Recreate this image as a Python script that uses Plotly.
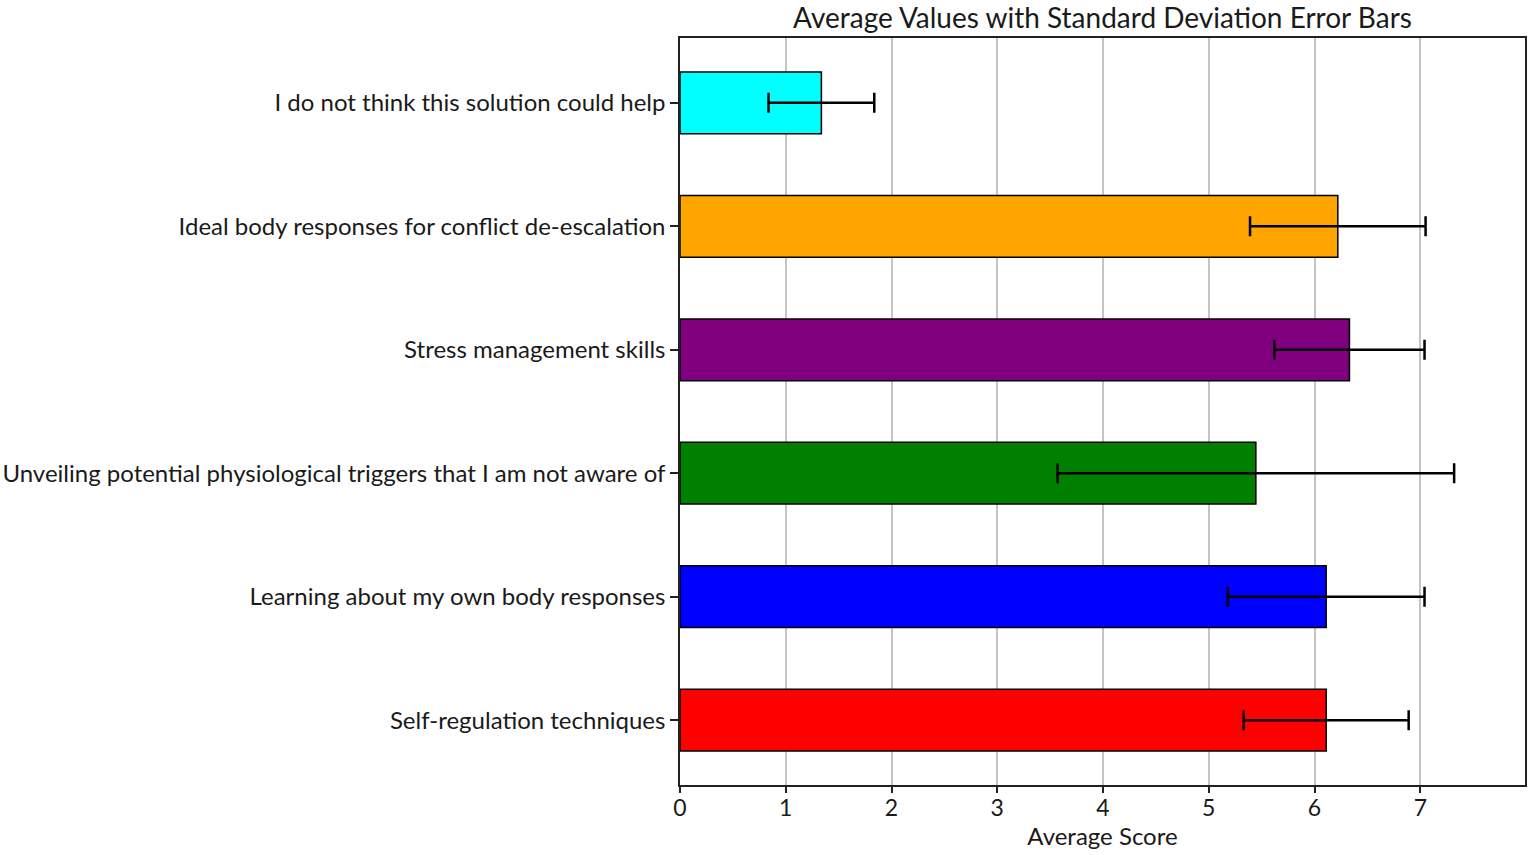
import plotly.graph_objects as go

categories = [
    "Self-regulation techniques",
    "Learning about my own body responses",
    "Unveiling potential physiological triggers that I am not aware of",
    "Stress management skills",
    "Ideal body responses for conflict de-escalation",
    "I do not think this solution could help",
]
means = [6.11, 6.11, 5.445, 6.33, 6.22, 1.337]
stds = [0.78, 0.93, 1.875, 0.71, 0.83, 0.50]
colors = ["red", "blue", "green", "purple", "orange", "cyan"]
x_ticks = [0, 1, 2, 3, 4, 5, 6, 7]

FONT = "Lato"
TXT = "#1a1a1a"

fig = go.Figure()
fig.add_trace(go.Bar(
    y=categories,
    x=means,
    orientation="h",
    width=0.5,
    marker=dict(color=colors, line=dict(color="black", width=1.5)),
    error_x=dict(type="data", array=stds, visible=True, color="black",
                 thickness=2.5, width=10),
))

fig.update_layout(
    width=1535, height=855,
    margin=dict(l=680, r=10, t=38, b=70),
    paper_bgcolor="white", plot_bgcolor="white",
    showlegend=False,
    title=dict(text="Average Values with Standard Deviation Error Bars",
               x=(680 + 1525) / 2 / 1535, xanchor="center",
               y=1 - 18 / 855, yanchor="middle",
               font=dict(family=FONT, size=28, color=TXT)),
    font=dict(family=FONT, size=24, color=TXT),
)
fig.update_xaxes(
    range=[0, 7.99], tickvals=x_ticks, ticktext=[str(t) for t in x_ticks],
    showgrid=True, gridcolor="#c4c4c4", gridwidth=1.5,
    showline=True, linecolor="#222", linewidth=1.5, mirror=True,
    ticks="outside", ticklen=6, tickcolor="#222", tickwidth=1.5,
    zeroline=False, automargin=False, ticklabelstandoff=-4,
    title=dict(text="Average Score", font=dict(family=FONT, size=24, color=TXT), standoff=2),
    tickfont=dict(family=FONT, size=23, color=TXT),
)
fig.update_yaxes(
    range=[-0.525, 5.525], type="category",
    showgrid=False, automargin=False,
    showline=True, linecolor="#222", linewidth=1.5, mirror=True,
    ticks="outside", ticklen=8, tickcolor="#222", tickwidth=1.5,
    tickfont=dict(family=FONT, size=24, color=TXT),
)

fig.write_html("out.html", config={"displayModeBar": False},
               post_script="document.body.style.margin='0';")
